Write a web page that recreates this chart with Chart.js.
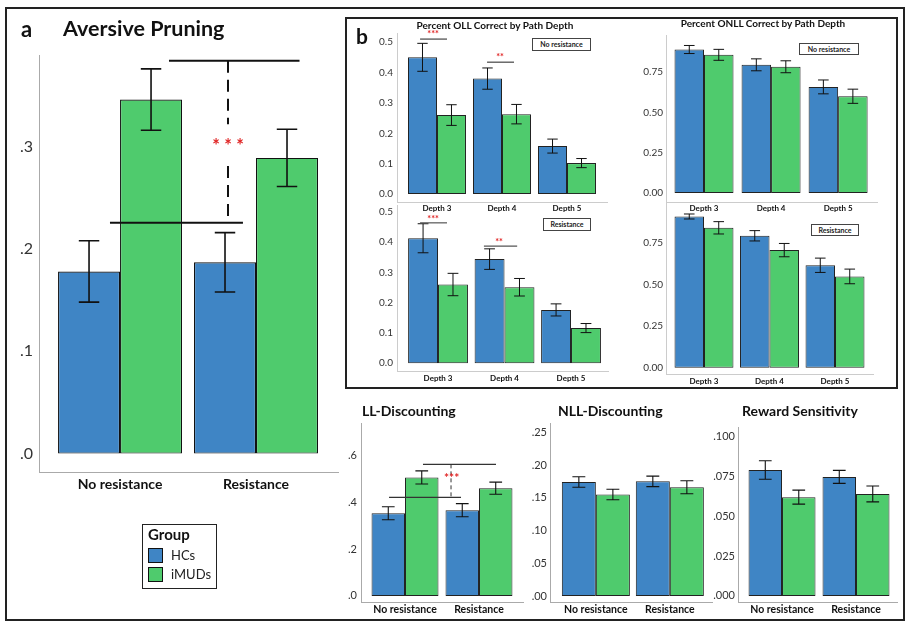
<!DOCTYPE html>
<html>
<head>
<meta charset="utf-8">
<script src="https://cdn.jsdelivr.net/npm/chart.js@4.4.1/dist/chart.umd.min.js"></script>
<style>
  body { margin: 0; background: #fff; font-family: Lato, sans-serif; }
  #fig { position: relative; width: 911px; height: 627px; overflow: hidden; }
  #fig canvas { position: absolute; }
  .t { position: absolute; font-weight: bold; color: #111; white-space: nowrap; line-height: 1; }
  .frame { position: absolute; border: 2px solid #222; box-sizing: border-box; }
  .tag { position: absolute; border: 1px solid #444; font-size: 7px; font-weight: bold; color: #222;
         text-align: center; box-sizing: border-box; line-height: 10px; background: #fff; }
  .sw { position: absolute; width: 15px; height: 15px; border: 1px solid #111; box-sizing: border-box; }
  .lg { position: absolute; font-size: 13px; color: #222; line-height: 1; }
</style>
</head>
<body>
<div id="fig">
  <div class="frame" style="left:5px;top:7px;width:900px;height:614px;"></div>
  <div class="frame" style="left:345px;top:17px;width:553px;height:372px;"></div>

  <div class="t" style="left:21px;top:18px;font-size:22px;">a</div>
  <div class="t" style="left:63px;top:18px;font-size:21.5px;">Aversive Pruning</div>
  <div class="t" style="left:356px;top:25px;font-size:21px;">b</div>
  <div class="t" style="left:395px;top:20px;width:200px;text-align:center;font-size:10px;">Percent OLL Correct by Path Depth</div>
  <div class="t" style="left:663px;top:18px;width:200px;text-align:center;font-size:10px;">Percent ONLL Correct by Path Depth</div>
  <div class="t" style="left:362px;top:404px;font-size:14px;">LL-Discounting</div>
  <div class="t" style="left:558px;top:404px;font-size:14px;">NLL-Discounting</div>
  <div class="t" style="left:742px;top:404px;font-size:14px;">Reward Sensitivity</div>

  <div class="tag" style="left:532px;top:38px;width:59px;height:13px;">No resistance</div>
  <div class="tag" style="left:543px;top:218px;width:48px;height:13px;">Resistance</div>
  <div class="tag" style="left:799px;top:43px;width:60px;height:12px;">No resistance</div>
  <div class="tag" style="left:811px;top:224px;width:48px;height:12px;">Resistance</div>

  <div class="frame" style="left:142px;top:524px;width:75px;height:65px;border-width:1.5px;"></div>
  <div class="t" style="left:148px;top:527px;font-size:15px;">Group</div>
  <div class="sw" id="sw0" style="left:148px;top:548px;"></div>
  <div class="lg" id="lg0" style="left:171px;top:549px;"></div>
  <div class="sw" id="sw1" style="left:148px;top:567px;"></div>
  <div class="lg" id="lg1" style="left:171px;top:568px;"></div>
</div>
<script>
// categories
const groups = ['HCs', 'iMUDs'];
const conditions = ['No resistance', 'Resistance'];
const depths = ['Depth 3', 'Depth 4', 'Depth 5'];

// a: aversive pruning (mean, s.e.)
const pruneHC = [0.178, 0.187];
const pruneHCse = [0.030, 0.029];
const pruneMUD = [0.346, 0.289];
const pruneMUDse = [0.030, 0.028];

// b: OLL correct, no resistance / resistance
const ollNoHC = [0.450, 0.380, 0.158];
const ollNoHCse = [0.046, 0.035, 0.023];
const ollNoMUD = [0.260, 0.263, 0.102];
const ollNoMUDse = [0.034, 0.032, 0.015];
const ollResHC = [0.413, 0.344, 0.176];
const ollResHCse = [0.048, 0.034, 0.020];
const ollResMUD = [0.260, 0.251, 0.116];
const ollResMUDse = [0.037, 0.029, 0.015];

// b: ONLL correct
const onllNoHC = [0.890, 0.795, 0.658];
const onllNoHCse = [0.025, 0.037, 0.043];
const onllNoMUD = [0.857, 0.783, 0.600];
const onllNoMUDse = [0.034, 0.037, 0.044];
const onllResHC = [0.909, 0.793, 0.616];
const onllResHCse = [0.015, 0.031, 0.043];
const onllResMUD = [0.841, 0.707, 0.549];
const onllResMUDse = [0.037, 0.040, 0.044];

// bottom row
const llHC = [0.353, 0.366];
const llHCse = [0.028, 0.028];
const llMUD = [0.506, 0.460];
const llMUDse = [0.028, 0.026];
const nllHC = [0.174, 0.175];
const nllHCse = [0.008, 0.008];
const nllMUD = [0.155, 0.166];
const nllMUDse = [0.008, 0.010];
const rsHC = [0.079, 0.0747];
const rsHCse = [0.0058, 0.0041];
const rsMUD = [0.062, 0.064];
const rsMUDse = [0.0044, 0.0050];

const BLUE = '#3f85c5';
const GREEN = '#4fcb6d';
const fig = document.getElementById('fig');

document.getElementById('sw0').style.background = BLUE;
document.getElementById('sw1').style.background = GREEN;
document.getElementById('lg0').textContent = groups[0];
document.getElementById('lg1').textContent = groups[1];

// error bars from the dataset's se array
function errorBars(o) {
  return {
    id: 'errorBars',
    afterDatasetsDraw(chart) {
      const ctx = chart.ctx, y = chart.scales.y;
      ctx.save();
      ctx.strokeStyle = o.color;
      ctx.lineWidth = o.width;
      chart.data.datasets.forEach((ds, di) => {
        chart.getDatasetMeta(di).data.forEach((bar, i) => {
          const v = ds.data[i].y, e = ds.se[i];
          const top = y.getPixelForValue(v + e), bot = y.getPixelForValue(v - e);
          const cap = bar.width * o.cap / 2;
          ctx.beginPath();
          ctx.moveTo(bar.x, top); ctx.lineTo(bar.x, bot);
          ctx.moveTo(bar.x - cap, top); ctx.lineTo(bar.x + cap, top);
          ctx.moveTo(bar.x - cap, bot); ctx.lineTo(bar.x + cap, bot);
          ctx.stroke();
        });
      });
      ctx.restore();
    }
  };
}

// significance marks, given in axis units
function notes(list) {
  return {
    id: 'notes',
    afterDraw(chart) {
      const ctx = chart.ctx, xs = chart.scales.x, ys = chart.scales.y;
      ctx.save();
      list.forEach(n => {
        if (n.text) {
          ctx.fillStyle = n.color || '#e02020';
          ctx.font = n.font;
          ctx.textAlign = 'center';
          ctx.textBaseline = 'middle';
          ctx.fillText(n.text, xs.getPixelForValue(n.x), ys.getPixelForValue(n.y));
          return;
        }
        ctx.strokeStyle = n.color || '#111';
        ctx.lineWidth = n.width || 1;
        ctx.setLineDash(n.dash || []);
        ctx.beginPath();
        ctx.moveTo(xs.getPixelForValue(n.x0), ys.getPixelForValue(n.y0));
        ctx.lineTo(xs.getPixelForValue(n.x1), ys.getPixelForValue(n.y1));
        ctx.stroke();
      });
      ctx.restore();
    }
  };
}

function barChart(area, o) {
  const padT = 10, padR = 6;
  const w = area.r - area.l + o.yw + padR;
  const h = area.b - area.t + padT + o.xh;
  const cv = document.createElement('canvas');
  cv.width = w; cv.height = h;
  cv.style.left = (area.l - o.yw) + 'px';
  cv.style.top = (area.t - padT) + 'px';
  cv.style.width = w + 'px';
  cv.style.height = h + 'px';
  fig.insertBefore(cv, fig.firstChild.nextSibling);
  const pts = vals => vals.map((v, i) => ({ x: i, y: v }));
  return new Chart(cv, {
    type: 'bar',
    data: {
      datasets: [
        { label: groups[0], data: pts(o.hc), se: o.hcSe, backgroundColor: BLUE, borderColor: o.edge, borderWidth: o.edgeW, borderSkipped: false },
        { label: groups[1], data: pts(o.mud), se: o.mudSe, backgroundColor: GREEN, borderColor: o.edge, borderWidth: o.edgeW, borderSkipped: false }
      ]
    },
    options: {
      responsive: false,
      animation: false,
      devicePixelRatio: 1,
      categoryPercentage: o.catPct,
      barPercentage: 1,
      layout: { padding: { top: padT, right: padR, left: 0, bottom: 0 } },
      plugins: { legend: { display: false }, tooltip: { enabled: false } },
      scales: {
        x: {
          type: 'linear', offset: false, min: o.xmin, max: o.xmax,
          grid: { display: false, drawTicks: false },
          border: { color: o.axis, width: o.axisW },
          ticks: {
            stepSize: 1, includeBounds: false, autoSkip: false, maxRotation: 0,
            padding: o.xpad, color: '#111', font: { family: 'Lato', weight: 'bold', size: o.xfont },
            callback: v => Number.isInteger(v) ? o.cats[v] : ''
          },
          afterFit: s => { s.height = o.xh; }
        },
        y: {
          min: o.ymin, max: o.ymax,
          grid: { display: false, drawTicks: false },
          border: { color: o.axis, width: o.axisW },
          ticks: {
            stepSize: o.step, includeBounds: false, padding: o.ypad,
            color: '#333', font: { family: 'Lato', size: o.yfont },
            callback: o.fmt
          },
          afterFit: s => { s.width = o.yw; }
        }
      }
    },
    plugins: [errorBars(o.err), notes(o.notes || [])]
  });
}

const dot1 = v => v === 0 ? '.0' : '.' + Math.round(v * 10);
const dec1 = v => v.toFixed(1);
const dec2 = v => v.toFixed(2);
const dot2 = v => v.toFixed(2).replace('0.', '.');
const dot3 = v => v.toFixed(3).replace('0.', '.');

const starRed = '#e02424';

// a
barChart({ l: 39, t: 50, r: 338, b: 472 }, {
  cats: conditions, hc: pruneHC, hcSe: pruneHCse, mud: pruneMUD, mudSe: pruneMUDse,
  xmin: -0.596, xmax: 1.603, ymin: -0.018, ymax: 0.389, step: 0.1, fmt: dot1,
  catPct: 0.912, yw: 36, xh: 32, xpad: 4, ypad: 6, xfont: 14, yfont: 16,
  edge: '#111', edgeW: 1.2, axis: '#aaa', axisW: 1,
  err: { color: '#111', width: 1.6, cap: 0.33 },
  notes: [
    { x0: -0.074, y0: 0.2257, x1: 0.904, y1: 0.2257, width: 2 },
    { x0: 0.36, y0: 0.384, x1: 1.32, y1: 0.384, width: 2 },
    { x0: 0.794, y0: 0.384, x1: 0.794, y1: 0.322, width: 2, dash: [12, 7] },
    { x0: 0.794, y0: 0.281, x1: 0.794, y1: 0.2257, width: 2, dash: [12, 7] },
    { text: '* * *', x: 0.794, y: 0.300, font: 'bold 18px Lato', color: starRed }
  ]
});

// b, OLL
barChart({ l: 397, t: 33, r: 607, b: 202 }, {
  cats: depths, hc: ollNoHC, hcSe: ollNoHCse, mud: ollNoMUD, mudSe: ollNoMUDse,
  xmin: -0.615, xmax: 2.615, ymin: -0.026, ymax: 0.53, step: 0.1, fmt: dec1,
  catPct: 0.892, yw: 30, xh: 12, xpad: 2, ypad: 4, xfont: 8, yfont: 10,
  edge: '#222', edgeW: 1, axis: '#ccc', axisW: 1,
  err: { color: '#111', width: 1, cap: 0.36 },
  notes: [
    { x0: -0.26, y0: 0.51, x1: 0.154, y1: 0.51, color: '#444', width: 1.2 },
    { text: '***', x: -0.06, y: 0.526, font: 'bold 9px Lato', color: starRed },
    { x0: 0.77, y0: 0.434, x1: 1.185, y1: 0.434, color: '#444', width: 1.2 },
    { text: '**', x: 0.97, y: 0.45, font: 'bold 9px Lato', color: starRed }
  ]
});
barChart({ l: 397, t: 205, r: 608, b: 371 }, {
  cats: depths, hc: ollResHC, hcSe: ollResHCse, mud: ollResMUD, mudSe: ollResMUDse,
  xmin: -0.617, xmax: 2.556, ymin: -0.026, ymax: 0.523, step: 0.1, fmt: dec1,
  catPct: 0.9, yw: 30, xh: 14, xpad: 3, ypad: 4, xfont: 8, yfont: 10,
  edge: '#222', edgeW: 1, axis: '#ccc', axisW: 1,
  err: { color: '#111', width: 1, cap: 0.36 },
  notes: [
    { x0: -0.27, y0: 0.464, x1: 0.135, y1: 0.464, color: '#555', width: 1.2 },
    { text: '***', x: -0.075, y: 0.478, font: 'bold 9px Lato', color: starRed },
    { x0: 0.69, y0: 0.387, x1: 1.19, y1: 0.387, color: '#555', width: 1.2 },
    { text: '**', x: 0.917, y: 0.401, font: 'bold 9px Lato', color: starRed }
  ]
});

// b, ONLL
barChart({ l: 666, t: 35, r: 877, b: 202 }, {
  cats: depths, hc: onllNoHC, hcSe: onllNoHCse, mud: onllNoMUD, mudSe: onllNoMUDse,
  xmin: -0.567, xmax: 2.58, ymin: -0.056, ymax: 0.98, step: 0.25, fmt: dec2,
  catPct: 0.88, yw: 30, xh: 12, xpad: 2, ypad: 3, xfont: 8, yfont: 10,
  edge: '#222', edgeW: 1, axis: '#ccc', axisW: 1,
  err: { color: '#111', width: 1, cap: 0.36 }
});
barChart({ l: 666, t: 203, r: 873, b: 374 }, {
  cats: depths, hc: onllResHC, hcSe: onllResHCse, mud: onllResMUD, mudSe: onllResMUDse,
  xmin: -0.58, xmax: 2.58, ymin: -0.037, ymax: 0.99, step: 0.25, fmt: dec2,
  catPct: 0.9, yw: 30, xh: 14, xpad: 3, ypad: 3, xfont: 8, yfont: 10,
  edge: '#222', edgeW: 1, axis: '#ccc', axisW: 1,
  err: { color: '#111', width: 1, cap: 0.36 }
});

// bottom row
barChart({ l: 361, t: 423, r: 523, b: 602 }, {
  cats: conditions, hc: llHC, hcSe: llHCse, mud: llMUD, mudSe: llMUDse,
  xmin: -0.595, xmax: 1.595, ymin: -0.026, ymax: 0.736, step: 0.2, fmt: dot1,
  catPct: 0.905, yw: 30, xh: 16, xpad: 1, ypad: 4, xfont: 10.5, yfont: 11,
  edge: '#222', edgeW: 1, axis: '#aaa', axisW: 1,
  err: { color: '#111', width: 1.1, cap: 0.38 },
  notes: [
    { x0: -0.216, y0: 0.421, x1: 0.757, y1: 0.421, color: '#333', width: 1.2 },
    { x0: 0.243, y0: 0.562, x1: 1.23, y1: 0.562, color: '#333', width: 1.2 },
    { x0: 0.622, y0: 0.562, x1: 0.622, y1: 0.421, color: '#333', width: 1, dash: [4, 3] },
    { text: '***', x: 0.63, y: 0.502, font: 'bold 12px Lato', color: starRed }
  ]
});
barChart({ l: 550, t: 423, r: 712, b: 602 }, {
  cats: conditions, hc: nllHC, hcSe: nllHCse, mud: nllMUD, mudSe: nllMUDse,
  xmin: -0.62, xmax: 1.57, ymin: -0.009, ymax: 0.264, step: 0.05, fmt: dot2,
  catPct: 0.92, yw: 30, xh: 16, xpad: 1, ypad: 3, xfont: 10.5, yfont: 11,
  edge: '#222', edgeW: 1, axis: '#aaa', axisW: 1,
  err: { color: '#111', width: 1.1, cap: 0.38 }
});
barChart({ l: 738, t: 427, r: 897, b: 602 }, {
  cats: conditions, hc: rsHC, hcSe: rsHCse, mud: rsMUD, mudSe: rsMUDse,
  xmin: -0.595, xmax: 1.554, ymin: -0.0038, ymax: 0.106, step: 0.025, fmt: dot3,
  catPct: 0.905, yw: 32, xh: 16, xpad: 1, ypad: 3, xfont: 10.5, yfont: 11,
  edge: '#222', edgeW: 1, axis: '#aaa', axisW: 1,
  err: { color: '#111', width: 1.1, cap: 0.38 }
});
</script>
</body>
</html>
